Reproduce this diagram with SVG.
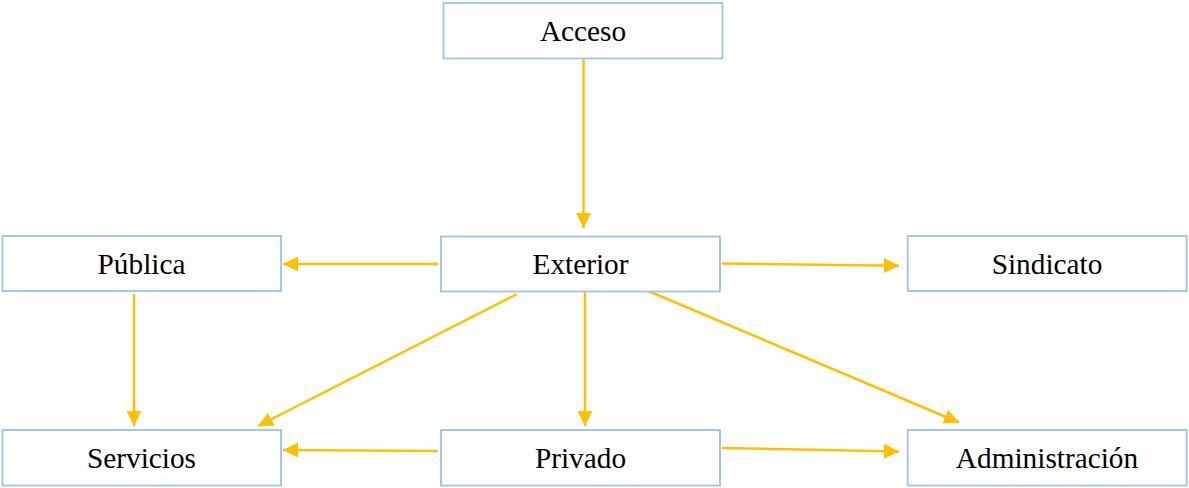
<svg xmlns="http://www.w3.org/2000/svg" width="1189" height="488" viewBox="0 0 1189 488">
<style>
.box{fill:#fff;stroke:#9DC3E6;stroke-width:1.8}
.lbl{font-family:"Liberation Serif","Times New Roman",serif;font-size:29.3px;fill:#000;text-anchor:middle}
.edge{stroke:#FFC000;stroke-width:2.5;fill:none;marker-end:url(#ah)}
</style>
<defs>
<marker id="ah" viewBox="0 0 10 10" refX="10" refY="5" markerWidth="6" markerHeight="6" markerUnits="strokeWidth" orient="auto">
<path d="M0,0 L10,5 L0,10 z" fill="#FFC000"/>
</marker>
</defs>
<rect width="1189" height="488" fill="#fff"/>
<g id="connectors">
<line class="edge" x1="583.5" y1="59" x2="583.5" y2="228"/>
<line class="edge" x1="438" y1="264" x2="283" y2="264"/>
<line class="edge" x1="722" y1="263.5" x2="899" y2="265.7"/>
<line class="edge" x1="134" y1="294" x2="134" y2="426"/>
<line class="edge" x1="517" y1="294" x2="258" y2="426"/>
<line class="edge" x1="585" y1="292" x2="585" y2="426"/>
<line class="edge" x1="646" y1="290" x2="959" y2="422.5"/>
<line class="edge" x1="438" y1="451" x2="283" y2="450"/>
<line class="edge" x1="722" y1="448" x2="899" y2="451.5"/>
</g>
<g id="acceso"><rect class="box" x="443.5" y="3" width="279" height="55.5"/><text class="lbl" x="583" y="41">Acceso</text></g>
<g id="exterior"><rect class="box" x="441" y="236.5" width="279" height="55"/><text class="lbl" x="580.5" y="274">Exterior</text></g>
<g id="publica"><rect class="box" x="2.5" y="236" width="278.5" height="55"/><text class="lbl" x="141.5" y="274">Pública</text></g>
<g id="sindicato"><rect class="box" x="907.7" y="236" width="279" height="55"/><text class="lbl" x="1047" y="274">Sindicato</text></g>
<g id="servicios"><rect class="box" x="2.5" y="430" width="278.5" height="55.5"/><text class="lbl" x="141.5" y="468">Servicios</text></g>
<g id="privado"><rect class="box" x="441" y="430" width="279" height="55.5"/><text class="lbl" x="580.5" y="468">Privado</text></g>
<g id="administracion"><rect class="box" x="907.7" y="430" width="279" height="55.5"/><text class="lbl" x="1047" y="468">Administración</text></g>
</svg>
